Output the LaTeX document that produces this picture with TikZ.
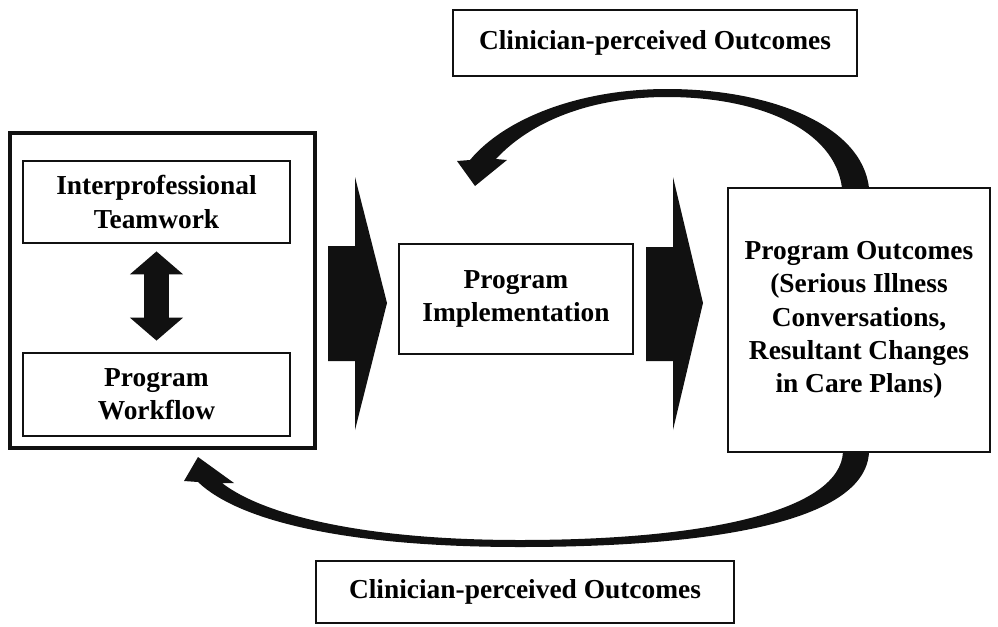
\documentclass[tikz,border=0pt]{standalone}
\usepackage{fontspec}
\setmainfont{Liberation Serif}
\usetikzlibrary{
  arrows.meta,
  positioning
}
\definecolor{ink}{HTML}{111111}
\tikzset{
  box/.style={
    draw=ink,
    fill=white,
    line width=1.6pt,
    inner sep=2pt,
    align=center,
    font=\fontsize{15.6}{19}\selectfont\bfseries
  },
  outerbox/.style={
    draw=ink,
    fill=white,
    line width=1.9pt
  },
  blockarrow/.style={
    fill=ink
  },
  bothways/.style={
    {Triangle[length=0.46cm,width=1.04cm]}-{Triangle[length=0.46cm,width=1.04cm]},
    line width=0.52cm,
    draw=ink
  },
  sweep/.style={
    fill=ink
  }
}

\begin{document}
\begin{tikzpicture}[x=0.02cm, y=-0.02cm]
  \useasboundingbox (0,0) rectangle (998,626);

  % feedback sweeps
  \fill[sweep] (869,188) .. controls (862,125) and (770,89) .. (667,89)
    .. controls (580,89) and (505,118) .. (470,160)
    -- (457,161) -- (475,186) -- (507,160) -- (496,159)
    .. controls (530,122) and (590,97) .. (667,97)
    .. controls (760,97) and (835,130) .. (842,188) -- cycle;
  \fill[sweep] (869,452) .. controls (866,520) and (720,547) .. (520,547)
    .. controls (350,547) and (240,522) .. (198,482)
    -- (184,481) -- (198,457) -- (234,483) -- (222,483)
    .. controls (262,514) and (360,540) .. (520,540)
    .. controls (710,540) and (840,510) .. (843,452) -- cycle;

  \node[box, minimum width=8.08cm, minimum height=1.32cm] (topout) at (655,43)
    {Clinician-perceived Outcomes};
  \node[outerbox, minimum width=6.1cm, minimum height=6.3cm] (frame) at (162.5,290.5) {};
  \node[box, minimum width=5.34cm, minimum height=1.64cm] (team) at (156.5,202)
    {Interprofessional\\Teamwork};
  \node[box, minimum width=5.34cm, minimum height=1.66cm] (flow) at (156.5,394.5)
    {Program\\Workflow};
  \node[box, minimum width=4.68cm, minimum height=2.2cm] (impl) at (516,299)
    {Program\\Implementation};
  \node[box, minimum width=5.24cm, minimum height=5.28cm] (result) at (859,320)
    {Program Outcomes\\(Serious Illness\\Conversations,\\Resultant Changes\\in Care Plans)};
  \node[box, minimum width=8.36cm, minimum height=1.24cm] (botout) at (525,592)
    {Clinician-perceived Outcomes};

  % block arrows between stages
  \fill[blockarrow] (328,246) -- (355,246) -- (355,177) -- (387,303)
    -- (355,430) -- (355,361) -- (328,361) -- cycle;
  \fill[blockarrow] (646,247) -- (673,247) -- (673,177) -- (703,303)
    -- (673,430) -- (673,361) -- (646,361) -- cycle;

  \draw[bothways, shorten <=0.14cm, shorten >=0.22cm] (team.south) -- (flow.north);
\end{tikzpicture}
\end{document}
